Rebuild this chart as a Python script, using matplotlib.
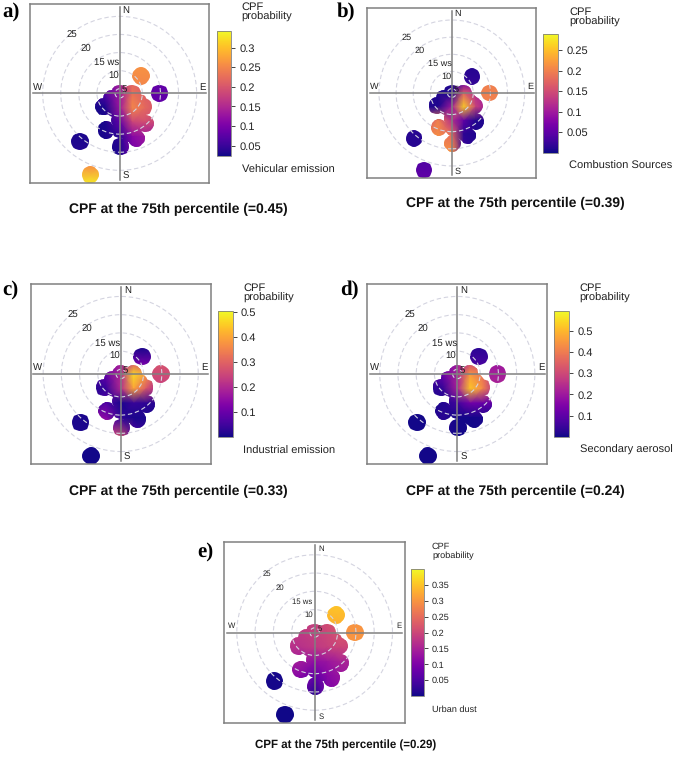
import matplotlib

matplotlib.use("Agg")
import matplotlib.pyplot as plt
from matplotlib.path import Path

W, H = 685, 758
plt.rcParams["font.family"] = ["Liberation Sans", "DejaVu Sans"]
plt.rcParams["text.hinting"] = "none"

grid_u = [-7.5, -4, 0, 3.5, 7, 10]
grid_v = [3, 0, -4, -8, -12, -18]

# wind bins filled in the body of the rose, (u, v)
bin_u = [0, 3.4, 6.6, 7.1, 4.6, 0.2, -3.7, -4.4, 0, 3.7, 0, 3.7, -1.2, 3.7, 0.2, 2.5, 1.8, 1.8, 5.2, 5.2, -1.6, -2.2]
bin_v = [0, 0, -3.7, -8.3, -12.4, -14.7, -10.1, -3.7, -4.6, -5.5, -7.4, -9.6, -1.8, -3, -10, -11, -2, -7.5, -2.5, -7, -4, -1.5]

# isolated bins: NE, E, SW, SSW
lone_u = [5.9, 11, -11, -8.1]
lone_v = [4.8, 0, -13.3, -22.5]

body_a = [[.04, .07, .14, .22, .20, .20],
          [.04, .07, .13, .23, .21, .20],
          [.028, .03, .13, .25, .22, .20],
          [.028, .03, .08, .18, .19, .18],
          [.028, .03, .04, .11, .13, .12],
          [.028, .03, .03, .09, .11, .10]]
body_b = [[.008, .008, .008, .06, .09, .10],
          [.008, .008, .008, .17, .12, .10],
          [.008, .008, .10, .26, .14, .10],
          [.15, .20, .12, .05, .008, .008],
          [.20, .21, .18, .015, .008, .008],
          [.20, .20, .22, .03, .008, .008]]
body_c = [[.07, .12, .18, .28, .25, .20],
          [.06, .10, .20, .47, .38, .25],
          [.02, .04, .20, .40, .28, .20],
          [.04, .07, .01, .04, .03, .02],
          [.15, .14, .03, .01, .01, .01],
          [.20, .20, .30, .10, .03, .03]]
body_d = [[.10, .12, .20, .30, .30, .25],
          [.07, .12, .22, .45, .38, .25],
          [.03, .04, .22, .52, .42, .25],
          [.01, .02, .06, .13, .12, .10],
          [.02, .03, .005, .005, .01, .01],
          [.02, .02, .005, .005, .005, .005]]
body_e = [[.18, .18, .19, .21, .22, .22],
          [.18, .18, .19, .20, .22, .22],
          [.17, .17, .18, .19, .20, .20],
          [.14, .14, .12, .13, .15, .15],
          [.12, .11, .07, .11, .13, .13],
          [.10, .10, .005, .10, .10, .10]]

lone_top_a = [.26, .08, .03, .26]
lone_bot_a = [.25, .08, .035, .33]
lone_top_b = [.012, .20, .012, .04]
lone_bot_b = [.02, .20, .012, .05]
lone_top_c = [.01, .27, .01, .005]
lone_bot_c = [.12, .25, .01, .005]
lone_top_d = [.03, .20, .005, .005]
lone_bot_d = [.07, .22, .005, .005]
lone_top_e = [.35, .30, .005, .002]
lone_bot_e = [.33, .30, .005, .002]

ticks_a = [0.05, 0.1, 0.15, 0.2, 0.25, 0.3]
ticks_b = [0.05, 0.1, 0.15, 0.2, 0.25]
ticks_c = [0.1, 0.2, 0.3, 0.4, 0.5]
ticks_d = [0.1, 0.2, 0.3, 0.4, 0.5]
ticks_e = [0.05, 0.1, 0.15, 0.2, 0.25, 0.3, 0.35]

ring_speeds = [5, 10, 15, 20, 25]
ring_labels = ["5", "10", "15 ws", "20", "25"]
ring_label_u = [1.3, -1.7, -3.5, -9.4, -13.1]
ring_label_v = [1.1, 4.8, 8.5, 12.3, 16.1]
compass = ["N", "E", "S", "W"]
compass_u = [1.8, 23, 1.8, -22.8]
compass_v = [23, 1.7, -23, 1.7]

panels = [
    dict(tag="a)", name="Vehicular emission", pct="0.45", body=body_a, top=lone_top_a, bot=lone_bot_a,
         ticks=ticks_a, vmin=0.0236, vmax=0.343, box=(30.3, 4, 209, 182.7), bar=(216.7, 30.7, 231.3, 156),
         txt_x=241.7, cpf_y=(7.5, 17), cap_y=170, title=(178, 209), tag_xy=(2, 12), fs=8, ring_fs=6.9, title_fs=10),
    dict(tag="b)", name="Combustion Sources", pct="0.39", body=body_b, top=lone_top_b, bot=lone_bot_b,
         ticks=ticks_b, vmin=0.0, vmax=0.29, box=(367.3, 8.3, 536.3, 177.7), bar=(543.3, 34, 558.3, 152.7),
         txt_x=569, cpf_y=(12, 21.5), cap_y=165.7, title=(515, 203.5), tag_xy=(337, 12), fs=8, ring_fs=6.6, title_fs=10),
    dict(tag="c)", name="Industrial emission", pct="0.33", body=body_c, top=lone_top_c, bot=lone_bot_c,
         ticks=ticks_c, vmin=0.0, vmax=0.504, box=(30.7, 284, 210.7, 464), bar=(217.7, 311.3, 232.7, 437),
         txt_x=243, cpf_y=(288, 297.5), cap_y=451, title=(178, 491), tag_xy=(2, 290), fs=8, ring_fs=6.9, title_fs=10),
    dict(tag="d)", name="Secondary aerosol", pct="0.24", body=body_d, top=lone_top_d, bot=lone_bot_d,
         ticks=ticks_d, vmin=0.0, vmax=0.591, box=(367.3, 284, 547.3, 464), bar=(554.3, 311.3, 569, 437),
         txt_x=579.7, cpf_y=(288, 297.5), cap_y=450, title=(515, 491), tag_xy=(340, 290), fs=8, ring_fs=6.9, title_fs=10),
    dict(tag="e)", name="Urban dust", pct="0.29", body=body_e, top=lone_top_e, bot=lone_bot_e,
         ticks=ticks_e, vmin=0.0, vmax=0.40, box=(224.3, 542.3, 405, 722.7), bar=(411, 569, 423.7, 696),
         txt_x=432, cpf_y=(546.5, 555.5), cap_y=709.7, title=(346, 745), tag_xy=(197, 552), fs=6.6, ring_fs=5.6, title_fs=8.3),
]

GRAY = "#808080"
RING = "#d4d4e0"
BLOB_R = 2.4
HALF = 24.7


def px_axes(figure, box):
    left, top, right, bottom = box
    return figure.add_axes([left / W, 1 - bottom / H, (right - left) / W, (bottom - top) / H])


def px_text(figure, x, y, s, **kwargs):
    return figure.text(x / W, 1 - y / H, s, va="center", **kwargs)


def draw_panel(figure, p):
    axis = px_axes(figure, p["box"])
    axis.set_xlim(-HALF, HALF)
    axis.set_ylim(-HALF, HALF)
    axis.set_xticks([])
    axis.set_yticks([])
    for spine in axis.spines.values():
        spine.set_color(GRAY)
        spine.set_linewidth(1.1)

    # same smooth field under every bin, each clipped to its own circle
    mesh = None
    for u, v in zip(bin_u, bin_v):
        mesh = axis.pcolormesh(grid_u, grid_v, p["body"], shading="gouraud", cmap="plasma",
                               vmin=p["vmin"], vmax=p["vmax"], zorder=2)
        mesh.set_clip_path(Path.circle((u, v), BLOB_R), axis.transData)

    for u, v, top, bot in zip(lone_u, lone_v, p["top"], p["bot"]):
        blob = axis.pcolormesh([u - BLOB_R, u + BLOB_R], [v - BLOB_R, v + BLOB_R], [[bot, bot], [top, top]],
                               shading="gouraud", cmap="plasma", vmin=p["vmin"], vmax=p["vmax"], zorder=2)
        blob.set_clip_path(Path.circle((u, v), BLOB_R), axis.transData)

    for speed in ring_speeds:
        axis.add_patch(plt.Circle((0, 0), speed - 3.72, fill=False, edgecolor=RING,
                                  linewidth=0.8, linestyle=(0, (4, 2.5)), zorder=3))
    axis.plot([-24, 24], [0, 0], color=GRAY, linewidth=1.1, zorder=4)
    axis.plot([0, 0], [-24, 24], color=GRAY, linewidth=1.1, zorder=4)

    for s, u, v in zip(ring_labels, ring_label_u, ring_label_v):
        axis.text(u, v, s, fontsize=p["ring_fs"], color="#222222", ha="center", va="center", zorder=5)
    for s, u, v in zip(compass, compass_u, compass_v):
        axis.text(u, v, s, fontsize=p["ring_fs"], color="#222222", ha="center", va="center", zorder=5)

    cax = px_axes(figure, p["bar"])
    bar = figure.colorbar(mesh, cax=cax, ticks=p["ticks"])
    bar.ax.set_yticklabels([f"{t:g}" for t in p["ticks"]])
    bar.ax.tick_params(labelsize=p["fs"], length=3, width=0.7, color="#444444", pad=3, labelcolor="#222222")
    bar.outline.set_edgecolor(GRAY)
    bar.outline.set_linewidth(0.6)

    px_text(figure, p["txt_x"], p["cpf_y"][0], "CPF", fontsize=p["fs"], color="#222222")
    px_text(figure, p["txt_x"], p["cpf_y"][1], "probability", fontsize=p["fs"], color="#222222")
    px_text(figure, p["txt_x"], p["cap_y"], p["name"], fontsize=p["fs"], color="#222222")
    px_text(figure, p["title"][0], p["title"][1], f"CPF at the 75th percentile (={p['pct']})",
            fontsize=p["title_fs"], fontweight="bold", ha="center", color="#111111")
    px_text(figure, p["tag_xy"][0], p["tag_xy"][1], p["tag"], fontsize=15, fontweight="bold",
            family="Liberation Serif", color="black")


figure = plt.figure(figsize=(W / 100, H / 100), dpi=100)
for panel in panels:
    draw_panel(figure, panel)
figure.savefig("out.png", dpi=100)
plt.close(figure)
